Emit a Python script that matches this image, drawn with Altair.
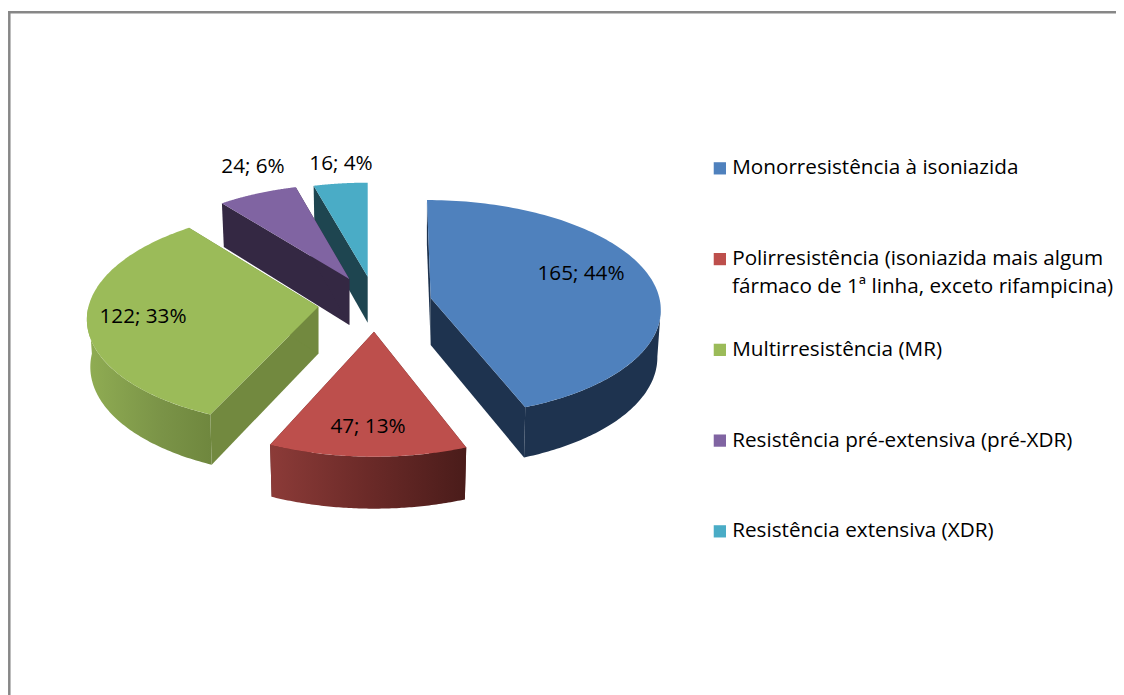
import numpy as np
import altair as alt

# ---- data ----
categories = ["Monorresistência à isoniazida",
              "Polirresistência (isoniazida mais algum|fármaco de 1ª linha, exceto rifampicina)",
              "Multirresistência (MR)",
              "Resistência pré-extensiva (pré-XDR)",
              "Resistência extensiva (XDR)"]
values = [165, 47, 122, 24, 16]
top_colors = ["#4f81bd", "#bd4f4c", "#9bbb59", "#8064a2", "#4aacc6"]
cut_colors = ["#1e334f", "#5a2220", "#72893f", "#342843", "#1e4550"]

# ---- 3-D look: layout of the exploded slices (page pixels) ----
apex = [(430.7, 298.0), (374.0, 331.7), (318.3, 306.7), (349.3, 279.0), (367.7, 276.7)]
scale_x = [0.99, 1.01, 0.995, 0.95, 0.96]
scale_y = [1.0, 1.06, 1.01, 0.97, 0.96]
lower_y = [1.03, 1.0, 1.03, 1.03, 1.03]
skew = [0.038, 0.0, -0.052, 0.0, 0.0]
depth = [47, 52, 47, 46, 46]
label_pos = [(581, 274), (368, 427), (143, 317), (253, 167), (341, 164)]
R, RT, K = 231.0, 107.0, 0.0925
OX, OY = 8, 8
FONT, FS = "Open Sans", 20.7

total = sum(values)
edges = np.cumsum([0] + values) / total * 2 * np.pi


def rim(i, th, lower=False):
    sx, sy = scale_x[i], scale_y[i]
    ax, ay = apex[i]
    if lower:
        sx, sy, ay = sx * 0.985, sy * lower_y[i], ay + depth[i]
    u, v = np.sin(th), np.cos(th)
    d = 1 + K * v
    dy = -sy * RT * v / d
    return np.column_stack([ax - OX + sx * R * u / d + skew[i] * dy, ay - OY + dy])


def feature(name, pts):
    ring = [[float(a), float(b)] for a, b in pts]
    ring.append(ring[0])
    return {"type": "Feature", "name": name,
            "geometry": {"type": "Polygon", "coordinates": [ring]}}


proj = alt.Projection(type="identity", scale=1, translate=[0, 0])


def shape(feats, **kw):
    return alt.Chart(alt.Data(values=feats)).mark_geoshape(filled=True, strokeWidth=0, **kw).project(**proj.to_dict())


wall_fill = [
    "#1e334f",
    alt.Gradient(gradient="linear", x1=0, x2=1, y1=0, y2=0,
                 stops=[alt.GradientStop(offset=0, color="#8c3b38"),
                        alt.GradientStop(offset=0.5, color="#6b2a28"),
                        alt.GradientStop(offset=1, color="#4a1c1a")]),
    alt.Gradient(gradient="linear", x1=0, x2=1, y1=0, y2=0,
                 stops=[alt.GradientStop(offset=0, color="#90ad53"),
                        alt.GradientStop(offset=0.6, color="#7a9347"),
                        alt.GradientStop(offset=1, color="#6f873e")]),
]

layers = []
for i in [4, 3, 2, 1, 0]:
    t0, t1 = edges[i], edges[i + 1]
    ax, ay = apex[i]
    a_top = (ax - OX, ay - OY)
    a_low = (ax - OX, ay - OY + depth[i])
    for t in (t0, t1):
        p = rim(i, np.array([t]))[0]
        q = rim(i, np.array([t]), True)[0]
        layers.append(shape([feature(categories[i], [a_top, p, q, a_low])], fill=cut_colors[i]))
    # outer wall: only the front-facing part of the rim
    lo = max(t0, np.radians(96))
    hi = min(t1, np.radians(270))
    if i < 3 and hi > lo:
        th = np.linspace(lo, hi, 80)
        pts = np.vstack([rim(i, th), rim(i, th[::-1], True)])
        layers.append(shape([feature(categories[i], pts)], fill=wall_fill[i]))
    th = np.linspace(t0, t1, 120)
    top = feature(categories[i], np.vstack([[a_top], rim(i, th)]))
    layers.append(
        shape([top]).encode(
            color=alt.Color(
                "name:N",
                scale=alt.Scale(domain=categories, range=top_colors),
                legend=alt.Legend(
                    orient="none", legendX=701.5, legendY=150, title=None,
                    symbolType="square", symbolSize=150, symbolStrokeWidth=0,
                    labelFont=FONT, labelFontSize=FS, labelColor="#000000",
                    labelLimit=420, labelOffset=2, rowPadding=68.75, padding=0,
                    labelExpr="split(datum.label, '|')[0]",
                ),
            )
        )
    )

frame_color = "#878787"
frame = [
    alt.Chart(alt.Data(values=[{"a": 0}])).mark_rule(color=frame_color, strokeWidth=2.5).encode(
        x=alt.value(1.3), y=alt.value(3), y2=alt.value(687)),
    alt.Chart(alt.Data(values=[{"a": 0}])).mark_rule(color=frame_color, strokeWidth=2.5).encode(
        x=alt.value(0), x2=alt.value(1108), y=alt.value(4.3)),
]

label_rows = [{"t": f"{v}; {round(100 * v / total)}%", "lon": p[0] - OX, "lat": p[1] - OY}
              for v, p in zip(values, label_pos)]
labels = alt.Chart(alt.Data(values=label_rows)).mark_text(
    font=FONT, fontSize=FS, color="#000000", align="center", baseline="middle"
).encode(longitude="lon:Q", latitude="lat:Q", text="t:N").project(**proj.to_dict())

second_line = alt.Chart(alt.Data(values=[{"t": categories[1].split("|")[1], "lon": 732 - OX, "lat": 287 - OY}])).mark_text(
    font=FONT, fontSize=FS, color="#000000", align="left", baseline="middle"
).encode(longitude="lon:Q", latitude="lat:Q", text="t:N").project(**proj.to_dict())

chart = alt.layer(*frame, *layers, labels, second_line).properties(
    width=1108, height=687, padding=0, autosize=alt.AutoSizeParams(type="none"),
    background="#ffffff",
).configure_view(stroke=None)

chart.save("out.html", embed_options={"renderer": "svg", "actions": False})
